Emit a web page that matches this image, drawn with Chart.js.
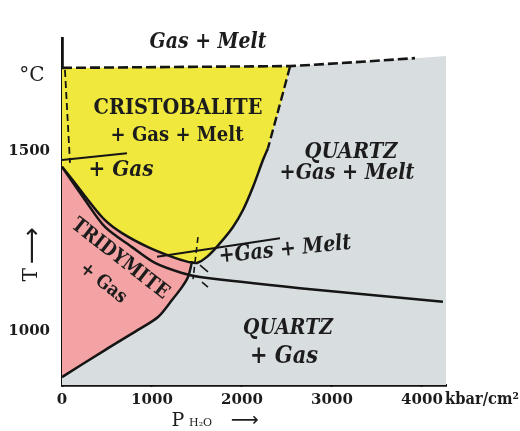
<!DOCTYPE html>
<html><head><meta charset="utf-8">
<script src="https://cdn.jsdelivr.net/npm/chart.js@4.4.1/dist/chart.umd.min.js"></script>
<style>html,body{margin:0;padding:0;background:#fff}#wrap{width:520px;height:431px}</style>
</head><body><div id="wrap"><canvas id="c" width="520" height="431"></canvas></div>
<script>
// ---------- data (P in kbar/cm², T in °C) ----------
const xTicks = [0, 1000, 2000, 3000, 4000];
const yTicks = [1000, 1500];
const pRange = [0, 4267];
const tRange = [850, 1814];

// field polygons
const quartzField = [[0,850],[0,1731],[2533,1736],[3089,1744],[3922,1758],[4267,1764],[4267,850]];
const cristobaliteField = [[0,1731],[2533,1734],[2444,1642],[2311,1531],[2233,1475],[2122,1400],[2011,1336],[1900,1289],[1756,1244],[1611,1206],[1500,1189],[1444,1191],[1400,1192],[1222,1206],[956,1233],[667,1272],[478,1308],[289,1364],[144,1411],[0,1456]];
const tridymiteField = [[0,1456],[144,1411],[289,1364],[478,1308],[667,1272],[956,1233],[1222,1206],[1400,1192],[1444,1191],[1400,1150],[1333,1122],[1222,1086],[1067,1039],[844,1003],[478,947],[0,872]];

// boundary curves
const meltCurve = [[0,1731],[2533,1736],[3089,1744],[3922,1758]];
const cristoQuartzDashed = [[2533,1734],[2400,1610],[2289,1508]];
const cristoBoundary = [[2289,1508],[2233,1475],[2122,1400],[2011,1336],[1900,1289],[1756,1244],[1611,1206],[1500,1189],[1444,1191],[1400,1192],[1222,1206],[956,1233],[667,1272],[478,1308],[289,1364],[144,1411],[0,1456]];
const tridyQuartzBoundary = [[1444,1191],[1400,1150],[1333,1122],[1222,1086],[1067,1039],[844,1003],[478,947],[0,872]];
const quartzMeltLine = [[0,1456],[256,1364],[478,1289],[778,1233],[1033,1189],[1333,1161],[1533,1150],[2644,1119],[4233,1081]];
const gasMeltLine = [[1056,1206],[2422,1258]];
const gasLine1500 = [[0,1475],[722,1494]];
const leftDashed = [[33,1725],[89,1467]];
const tripleDashed = [[1511,1261],[1456,1144]];
const tripleDash2 = [[1533,1183],[1622,1164]];
const tripleDash3 = [[1556,1136],[1622,1122]];

// ---------- labels ----------
const SERIF = '"DejaVu Serif", "Liberation Serif", serif';
const fieldLabels = [
  {text:'Gas + Melt', p:1622, t:1803, w:117, style:'italic bold', rot:0},
  {text:'CRISTOBALITE', p:1289, t:1619, w:169, style:'bold', rot:0},
  {text:'+ Gas + Melt', p:1278, t:1544, w:133, style:'bold', rot:0},
  {text:'+ Gas', p:656, t:1447, w:65, style:'italic bold', rot:0},
  {text:'QUARTZ', p:3211, t:1497, w:93, style:'italic bold', rot:0},
  {text:'+Gas + Melt', p:3167, t:1439, w:135, style:'italic bold', rot:0},
  {text:'+Gas + Melt', p:2478, t:1225, w:133, style:'italic bold', rot:-6},
  {text:'TRIDYMITE', p:644, t:1200, w:118, style:'bold', rot:38},
  {text:'+ Gas', p:456, t:1133, w:54, style:'bold', rot:38},
  {text:'QUARTZ', p:2511, t:1006, w:90, style:'italic bold', rot:0},
  {text:'+ Gas', p:2467, t:928, w:68, style:'italic bold', rot:0}
];

function pts(a){ return a.map(([x,y]) => ({x, y})); }
function area(a, color, order){
  return {data: pts(a), showLine: true, fill: 'shape', backgroundColor: color, borderWidth: 0, pointRadius: 0, tension: 0, order};
}
function line(a, dashed, width, tension){
  return {data: pts(a), showLine: true, fill: false, borderColor: '#151515', borderWidth: width || 2, borderDash: dashed ? dashed : [], pointRadius: 0, tension: tension || 0, order: 1};
}

function drawFit(ctx, text, cx, cy, w, style, rot, family, stretch){
  ctx.save();
  ctx.translate(cx, cy);
  ctx.rotate(rot * Math.PI / 180);
  ctx.scale(1, stretch || 1);
  ctx.font = style + ' 20px ' + family;
  const m = ctx.measureText(text).width;
  const size = 20 * w / m;
  ctx.font = style + ' ' + size.toFixed(2) + 'px ' + family;
  ctx.textAlign = 'center';
  ctx.textBaseline = 'middle';
  ctx.fillStyle = '#1c1c1c';
  ctx.fillText(text, 0, 0);
  ctx.restore();
}
function drawText(ctx, text, cx, cy, font, rot){
  ctx.save();
  ctx.translate(cx, cy);
  ctx.rotate((rot||0) * Math.PI / 180);
  ctx.font = font;
  ctx.textAlign = 'center';
  ctx.textBaseline = 'middle';
  ctx.fillStyle = '#1c1c1c';
  ctx.fillText(text, 0, 0);
  ctx.restore();
}

const labelPlugin = {
  id: 'fieldLabels',
  afterDraw(chart){
    const {ctx, scales: {x, y}} = chart;
    for (const L of fieldLabels){
      drawFit(ctx, L.text, x.getPixelForValue(L.p), y.getPixelForValue(L.t), L.w, L.style, L.rot, SERIF, 1.15);
    }
    const left = chart.chartArea.left, bottom = chart.chartArea.bottom;
    drawText(ctx, '°C', left - 30, y.getPixelForValue(1708), '20px ' + SERIF, 0);
    drawText(ctx, 'T', left - 30, y.getPixelForValue(1156), '20px ' + SERIF, -90);
    drawFit(ctx, '⟶', left - 29, y.getPixelForValue(1236), 37, 'normal', -90, '"DejaVu Sans", sans-serif');
    drawText(ctx, 'P', x.getPixelForValue(1289), bottom + 36, '19px ' + SERIF, 0);
    drawText(ctx, 'H₂O', x.getPixelForValue(1540), bottom + 38, '11px ' + SERIF, 0);
    drawFit(ctx, '⟶', x.getPixelForValue(2030), bottom + 36, 28, 'normal', 0, '"DejaVu Sans", sans-serif');
    drawFit(ctx, 'kbar/cm²', x.getPixelForValue(4667), bottom + 15, 74, 'bold', 0, SERIF, 1.1);
  }
};

const tickFont = {family: SERIF, size: 15, weight: 'bold'};

new Chart(document.getElementById('c'), {
  type: 'scatter',
  data: {
    datasets: [
      area(quartzField, '#d8dde0', 10),
      area(cristobaliteField, '#f0e83c', 9),
      area(tridymiteField, '#f3a3a3', 8),
      line(meltCurve, [10,4], 2.6),
      line(cristoQuartzDashed, [9,4], 2.4, 0.3),
      line(cristoBoundary, null, 2.5, 0.35),
      line(tridyQuartzBoundary, null, 2.5, 0.3),
      line(quartzMeltLine, null, 2.5, 0.3),
      line(gasMeltLine, null, 2),
      line(gasLine1500, null, 2),
      line(leftDashed, [7,4], 1.8),
      line(tripleDashed, [6,4], 1.6),
      line(tripleDash2, null, 1.6),
      line(tripleDash3, null, 1.6)
    ]
  },
  options: {
    responsive: false,
    devicePixelRatio: 1,
    animation: false,
    layout: {padding: {top: 38, right: 74, left: 0, bottom: 0}},
    plugins: {legend: {display: false}, tooltip: {enabled: false}},
    scales: {
      x: {
        type: 'linear', min: pRange[0], max: pRange[1],
        afterBuildTicks(s){ s.ticks = xTicks.map(v => ({value: v})); },
        afterFit(s){ s.height = 46; },
        grid: {drawOnChartArea: false, drawTicks: true, tickLength: -9, tickColor: '#111', tickWidth: 2},
        border: {display: true, color: '#111', width: 2.8},
        ticks: {font: tickFont, color: '#1c1c1c', padding: 15, maxRotation: 0, autoSkip: false, callback: v => String(v)}
      },
      y: {
        type: 'linear', min: tRange[0], max: tRange[1],
        afterBuildTicks(s){ s.ticks = yTicks.map(v => ({value: v})); },
        afterFit(s){ s.width = 62; },
        grid: {drawOnChartArea: false, drawTicks: true, tickLength: -9, tickColor: '#111', tickWidth: 2},
        border: {display: true, color: '#111', width: 2.8},
        ticks: {font: tickFont, color: '#1c1c1c', padding: 21, autoSkip: false, callback: v => String(v)}
      }
    }
  },
  plugins: [labelPlugin]
});
</script>
</body></html>
